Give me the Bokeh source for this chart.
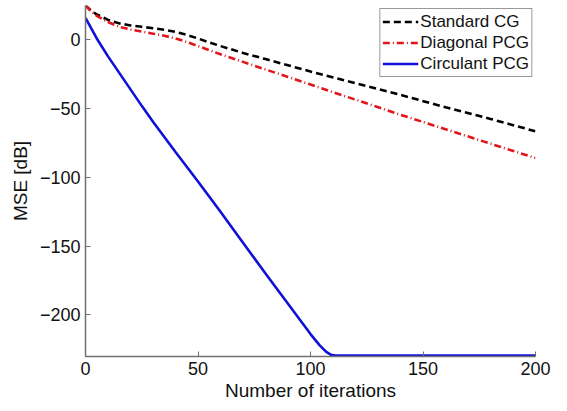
from bokeh.plotting import figure
from bokeh.models import Range1d, FixedTicker, Legend, LegendItem
from bokeh.embed import file_html
from bokeh.resources import INLINE

# Standard CG (black dashed)
cg_x = [0, 2, 5, 10, 15, 20, 25, 30, 35, 40, 45, 50, 55, 60, 70, 80, 90, 100, 120, 140, 160, 180, 200]
cg_y = [25, 22, 18.5, 14.5, 12, 10.5, 9.5, 8.5, 7.3, 5.8, 3.6, 1, -1.8, -4.5, -9.5, -14, -18.5, -23, -31.5, -40, -49, -57.5, -66.5]

# Diagonal PCG (red dash-dot)
dpcg_x = [0, 2, 5, 10, 15, 20, 25, 30, 35, 40, 45, 50, 55, 60, 70, 80, 90, 100, 120, 140, 160, 180, 200]
dpcg_y = [25, 21.5, 17.5, 13, 9.5, 7.5, 6, 4.5, 3, 1, -1.5, -4.5, -7.5, -10.5, -16, -21.5, -27, -32.5, -43.5, -54.5, -65, -75.5, -86]

# Circulant PCG (blue solid)
cpcg_x = [0, 5, 10, 15, 20, 25, 30, 40, 50, 60, 70, 80, 90, 100, 104, 107, 109, 111, 115, 150, 200]
cpcg_y = [16, 1, -12, -24, -36, -48, -59.5, -81.5, -103, -125, -147.5, -170, -192, -214, -222, -227, -229, -229.6, -229.6, -229.6, -229.6]

x_ticks = [0, 50, 100, 150, 200]
y_ticks = [0, -50, -100, -150, -200]
y_tick_labels = {0: "0", -50: "\u221250", -100: "\u2212100", -150: "\u2212150", -200: "\u2212200"}

FONT = "Liberation Sans"
AXIS_COLOR = "#707070"

p = figure(width=559, height=403, output_backend="svg", toolbar_location=None,
           x_range=Range1d(0, 200), y_range=Range1d(-230.3, 25),
           min_border_left=85, min_border_right=24, min_border_top=5, min_border_bottom=45)
p.outline_line_color = None
p.grid.visible = False
p.background_fill_color = "white"

r_cg = p.line(cg_x, cg_y, line_color="black", line_width=2.6, line_dash="7 4")
r_d = p.line(dpcg_x, dpcg_y, line_color="#e0161b", line_width=2.6, line_dash="7 3 1 3")
r_c = p.line(cpcg_x, cpcg_y, line_color="#1010d8", line_width=2.6)

for ax in (p.xaxis[0], p.yaxis[0]):
    ax.axis_line_color = AXIS_COLOR
    ax.axis_line_width = 1.5
    ax.major_tick_line_color = AXIS_COLOR
    ax.major_tick_line_width = 1
    ax.major_tick_in = 5
    ax.major_tick_out = 0
    ax.minor_tick_line_color = None
    ax.major_label_text_font = FONT
    ax.major_label_text_font_size = "18px"
    ax.major_label_text_color = "#111111"
    ax.axis_label_text_font = FONT
    ax.axis_label_text_font_size = "19px"
    ax.axis_label_text_font_style = "normal"
    ax.axis_label_text_color = "#111111"

p.xaxis.ticker = FixedTicker(ticks=x_ticks)
p.yaxis.ticker = FixedTicker(ticks=y_ticks)
p.yaxis.major_label_overrides = y_tick_labels
p.xaxis.axis_label = "Number of iterations"
p.yaxis.axis_label = "MSE [dB]"
p.xaxis.major_label_standoff = 5
p.xaxis.axis_label_standoff = 2
p.yaxis.major_label_standoff = 5
p.yaxis.axis_label_standoff = 6

legend = Legend(items=[
    LegendItem(label="Standard CG", renderers=[r_cg]),
    LegendItem(label="Diagonal PCG", renderers=[r_d]),
    LegendItem(label="Circulant PCG", renderers=[r_c]),
], location="top_right")
legend.label_text_font = FONT
legend.label_text_font_size = "17px"
legend.label_text_color = "#111111"
legend.label_height = 21
legend.glyph_height = 21
legend.glyph_width = 36
legend.label_standoff = 2
legend.padding = 2
legend.spacing = 0
legend.margin = 3
legend.border_line_color = "#333333"
legend.border_line_width = 1
legend.background_fill_alpha = 1
p.add_layout(legend)

open("out.html", "w").write(file_html(p, INLINE))
